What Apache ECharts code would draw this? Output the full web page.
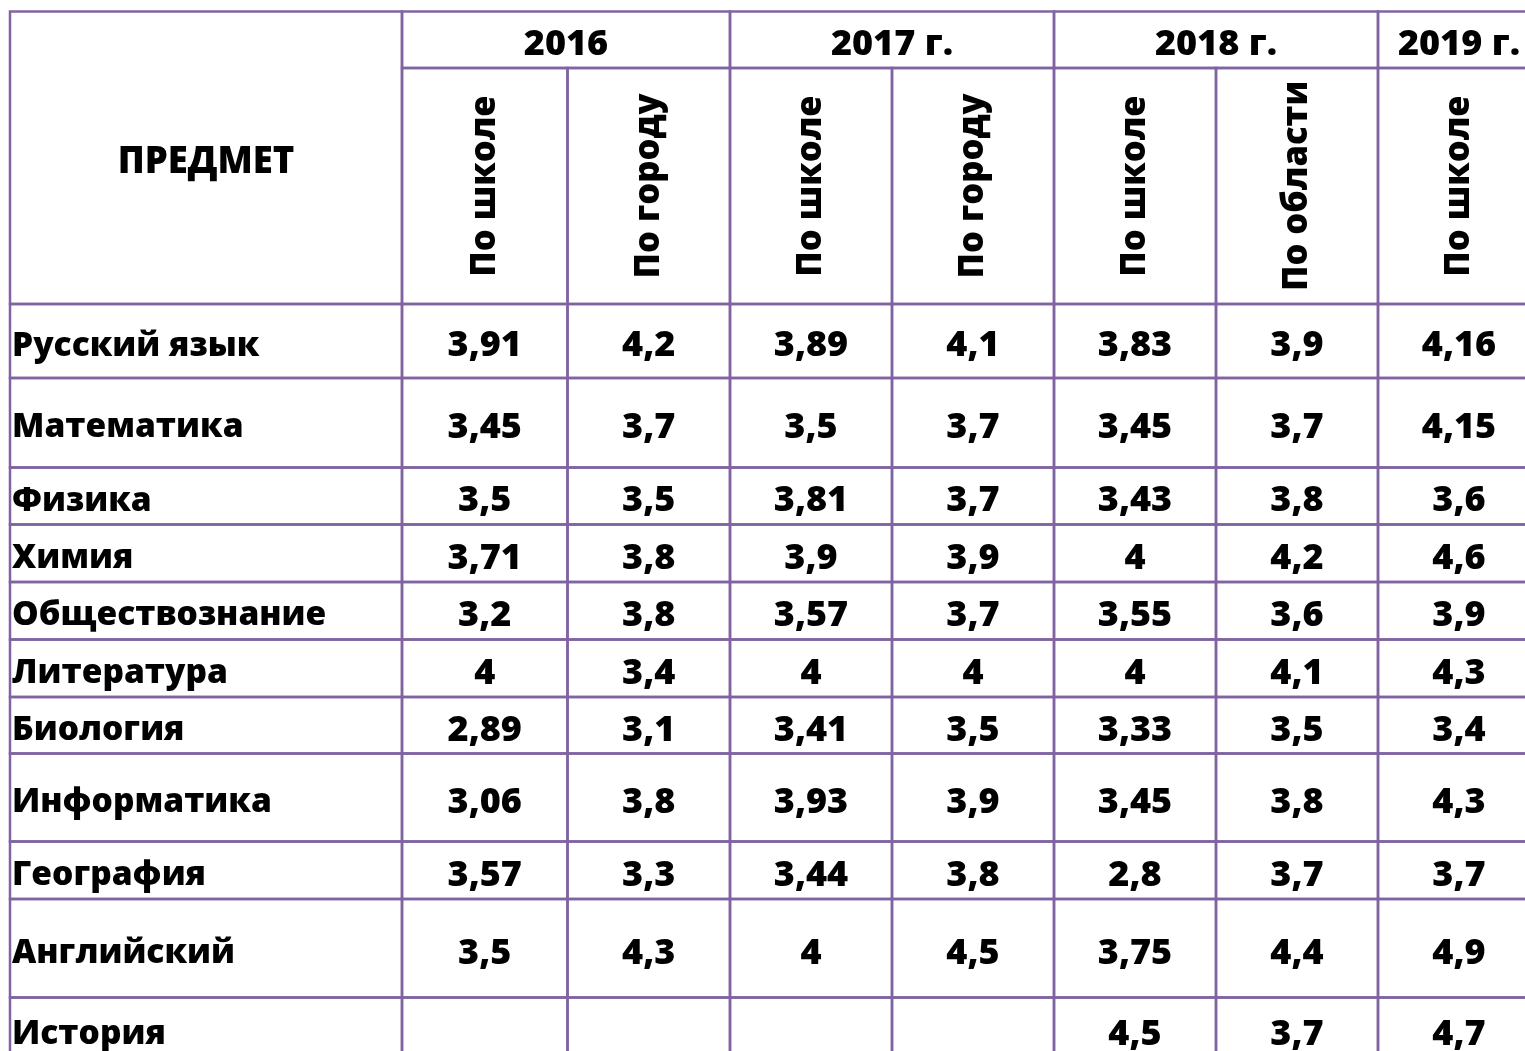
<!DOCTYPE html>
<html>
<head>
<meta charset="utf-8">
<script src="https://cdn.jsdelivr.net/npm/echarts@6/dist/echarts.min.js"></script>
<style>
    html, body { margin: 0; padding: 0; background: #fff; }
    #main { width: 1525px; height: 1051px; }
</style>
</head>
<body>
<div id="main"></div>
<script>
// данные таблицы
var subjects = ['Русский язык', 'Математика', 'Физика', 'Химия', 'Обществознание', 'Литература',
    'Биология', 'Информатика', 'География', 'Английский', 'История'];
var years = ['2016', '2017 г.', '2018 г.', '2019 г.'];
var subHeaders = ['По школе', 'По городу', 'По школе', 'По городу', 'По школе', 'По области', 'По школе'];

var school2016 = [3.91, 3.45, 3.5, 3.71, 3.2, 4, 2.89, 3.06, 3.57, 3.5, null];
var city2016 = [4.2, 3.7, 3.5, 3.8, 3.8, 3.4, 3.1, 3.8, 3.3, 4.3, null];
var school2017 = [3.89, 3.5, 3.81, 3.9, 3.57, 4, 3.41, 3.93, 3.44, 4, null];
var city2017 = [4.1, 3.7, 3.7, 3.9, 3.7, 4, 3.5, 3.9, 3.8, 4.5, null];
var school2018 = [3.83, 3.45, 3.43, 4, 3.55, 4, 3.33, 3.45, 2.8, 3.75, 4.5];
var region2018 = [3.9, 3.7, 3.8, 4.2, 3.6, 4.1, 3.5, 3.8, 3.7, 4.4, 3.7];
var school2019 = [4.16, 4.15, 3.6, 4.6, 3.9, 4.3, 3.4, 4.3, 3.7, 4.9, 4.7];

var columns = [school2016, city2016, school2017, city2017, school2018, region2018, school2019];
var yearSpan = [2, 2, 2, 1];

// разметка (в единицах осей = пиксели)
var colEdges = [10, 402, 567.5, 730, 892, 1054, 1216, 1378, 1540];
var headTop = 11.5, yearBottom = 68, headBottom = 304;
var rowEdges = [304, 378, 467.5, 524.5, 582, 639.5, 697, 753.5, 841.5, 899, 997.5, 1062];

var lineColor = '#8064a2';
var fontFamily = '"Open Sans", sans-serif';

function fmt(v) {
    return v == null ? '' : String(v).replace('.', ',');
}

// собираем ячейки
var cells = [];
cells.push({ x0: colEdges[0], y0: headTop, x1: colEdges[1], y1: headBottom, text: 'ПРЕДМЕТ', align: 'center', size: 36.5 });
var c = 1;
years.forEach(function (y, i) {
    cells.push({ x0: colEdges[c], y0: headTop, x1: colEdges[c + yearSpan[i]], y1: yearBottom, text: y, align: 'center', size: 36 });
    c += yearSpan[i];
});
subHeaders.forEach(function (s, i) {
    cells.push({ x0: colEdges[i + 1], y0: yearBottom, x1: colEdges[i + 2], y1: headBottom, text: s, align: 'center', rotate: true, size: 34.5 });
});
subjects.forEach(function (name, r) {
    cells.push({ x0: colEdges[0], y0: rowEdges[r], x1: colEdges[1], y1: rowEdges[r + 1], text: name, align: 'left', size: 33.5 });
    columns.forEach(function (col, j) {
        cells.push({ x0: colEdges[j + 1], y0: rowEdges[r], x1: colEdges[j + 2], y1: rowEdges[r + 1], text: fmt(col[r]), align: 'center', size: 36 });
    });
});

var myChart = echarts.init(document.getElementById('main'));

var option = {
    animation: false,
    grid: { left: 0, right: 0, top: 0, bottom: 0 },
    xAxis: { type: 'value', min: 0, max: 1525, show: false },
    yAxis: { type: 'value', min: 0, max: 1051, inverse: true, show: false },
    series: [{
        type: 'custom',
        clip: false,
        data: cells.map(function (d) { return [d.x0, d.y0, d.x1, d.y1]; }),
        renderItem: function (params, api) {
            var d = cells[params.dataIndex];
            var p0 = api.coord([api.value(0), api.value(1)]);
            var p1 = api.coord([api.value(2), api.value(3)]);
            var w = p1[0] - p0[0], h = p1[1] - p0[1];
            var children = [{
                type: 'rect',
                shape: { x: p0[0], y: p0[1], width: w, height: h },
                style: { fill: 'none', stroke: lineColor, lineWidth: 2.5 }
            }];
            if (d.text) {
                children.push({
                    type: 'text',
                    x: d.align === 'left' ? p0[0] + 2 : p0[0] + w / 2,
                    y: d.rotate ? p0[1] + h / 2 : p0[1] + h / 2 + 5,
                    rotation: d.rotate ? Math.PI / 2 : 0,
                    style: {
                        text: d.text,
                        fill: '#000',
                        font: '800 ' + d.size + 'px ' + fontFamily,
                        align: d.rotate ? 'center' : d.align,
                        verticalAlign: 'middle'
                    }
                });
            }
            return { type: 'group', children: children };
        }
    }]
};

myChart.setOption(option);
</script>
</body>
</html>
